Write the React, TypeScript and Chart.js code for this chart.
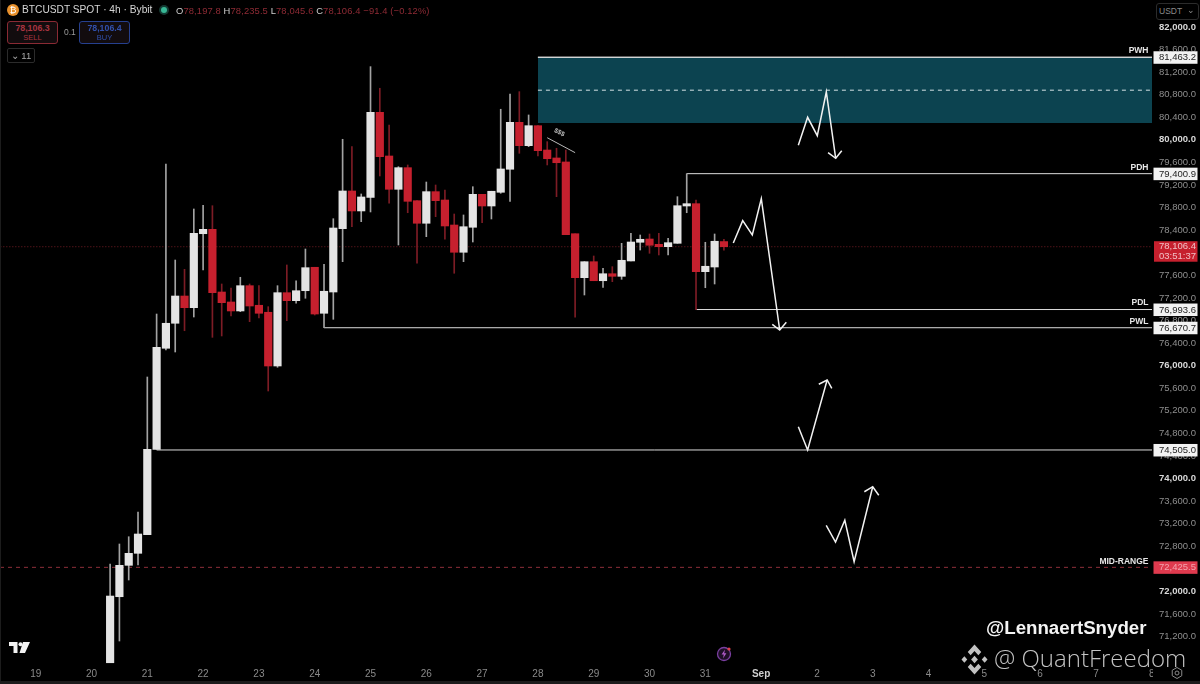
import React, { useEffect, useRef } from "react";
import { Chart, registerables } from "chart.js";

Chart.register(...registerables);

// Candle slots are counted from the 19th at 00:00, one slot per 4h bar.
const firstCandleSlot = 8;
const opens = [70735,71905,72461,72674,73004,74517,76307,76750,77233,77026,78337,78415,77304,77127,76968,77416,77069,76945,75993,77292,77150,77327,77742,76927,77304,78426,79094,78740,78982,80488,79714,79124,79507,78922,78522,79082,78934,78491,78008,78451,79035,78828,79071,79479,80311,79897,80251,79820,79679,79608,78337,77558,77841,77504,77628,77582,77854,78185,78243,78149,78107,78167,78828,78869,77664,77747,78197.8];
const highs = [72484,72839,72968,73406,75798,76914,79572,77871,77706,78775,78840,78833,77446,77375,77565,77446,77416,77044,77416,77783,77504,78066,77742,77795,78603,80010,79879,79041,81297,80914,80263,79525,79555,78922,79253,79200,79112,78686,78669,79170,79035,79089,80542,80813,80854,80441,80251,79968,79851,79820,78337,77841,77942,77724,77753,78167,78344,78314,78332,78344,78256,78993,79400,78934,78185,78332,78235.5];
const lows = [70735,71120,72201,72467,73004,74517,76276,76241,76618,76861,77694,76501,76525,76879,76956,76778,76843,75550,75970,76796,77104,77193,76896,76672,76820,77841,78461,78550,78722,79360,78876,78137,78709,77813,78284,78639,78238,77636,77841,78190,78532,78598,79053,78911,79762,79879,79714,79555,78993,78320,76856,77251,77504,77387,77487,77529,77854,78048,77990,77960,77960,78167,78709,76993,77380,77446,78045.6];
const closes = [71917,72461,72674,73016,74517,76324,76750,77233,77026,78344,78415,77292,77115,76968,77416,77056,76927,75993,77292,77150,77327,77735,76914,77317,78438,79094,78740,78988,80488,79702,79124,79507,78911,78522,79082,78922,78474,78008,78461,79035,78828,79089,79484,80311,79897,80251,79808,79666,79595,78320,77558,77841,77504,77628,77582,77866,78190,78238,78132,78107,78178,78833,78869,77664,77760,78203,78106.4];

const dayLabels = ["19","20","21","22","23","24","25","26","27","28","29","30","31","Sep","2","3","4","5","6","7","8"];
const slotsPerDay = 6;

const levelNames = ["PWH", "PDH", "PDL", "PWL", ""];
const levelPrices = [81463.2, 79400.9, 76993.6, 76670.7, 74505.0];
const levelStartSlots = [54, 70, 71, 31, 13];

const zoneTop = 81463.2;
const zoneBottom = 80300;
const zoneMid = 80880;
const zoneStartSlot = 54;

const midRangePrice = 72425.5;
const lastPrice = 78106.4;
const countdown = "03:51:37";

const slotMin = -3.84;
const slotMax = 120.03;
const priceMin = 70695;
const priceMax = 82478;
const firstPriceLabel = 71200;
const lastPriceLabel = 82000;

const arrowA = [[82,79904],[83,80400],[84.04,80074],[85.01,80848],[86.02,79673]];
const arrowAHead = [[85.2,79773],[86.02,79673],[86.67,79808]];
const arrowB = [[75.01,78172],[76.02,78568],[77.05,78314],[78.02,78957],[80,76631]];
const arrowBHead = [[79.2,76732],[80,76631],[80.71,76767]];
const arrowC = [[82,74917],[83,74505],[85.1,75745]];
const arrowCHead = [[84.2,75669],[85.1,75745],[85.6,75598]];
const arrowD = [[85,73170],[86,72874],[87,73259],[88,72525],[90,73854]];
const arrowDHead = [[89.1,73765],[90,73854],[90.65,73702]];
const noteLine = [[55,80038],[58,79773]];

const WHITE = "#e4e4e4";
const RED = "#c6202e";
const SANS = '"Liberation Sans", Arial, sans-serif';

const slots = opens.map((_, i) => firstCandleSlot + i);
const fmt = (v: number) => v.toLocaleString("en-US", { minimumFractionDigits: 1, maximumFractionDigits: 1 });
const toPts = (a: number[][]) => a.map(([x, y]) => ({ x, y }));

const lineDs = (data: any[], color: string, width: number, order: number, extra: any = {}) => ({
  type: "line",
  data,
  borderColor: color,
  borderWidth: width,
  pointRadius: 0,
  tension: 0,
  order,
  ...extra,
});

const overlayPlugin = {
  id: "overlay",
  afterDraw(chart: any) {
    const { ctx, scales } = chart;
    const ys = scales.y;
    const xs = scales.x;
    ctx.save();
    // cover the axis corner, as the last day label runs under the price axis
    ctx.fillStyle = "#000";
    ctx.fillRect(1153, 665, 47, 19);
    // settings glyph
    ctx.strokeStyle = "#8a8a8a";
    ctx.lineWidth = 1;
    ctx.beginPath();
    for (let i = 0; i < 6; i++) {
      const a = Math.PI / 6 + (i * Math.PI) / 3;
      const px = 1177 + 5.5 * Math.cos(a);
      const py = 673 + 5.5 * Math.sin(a);
      if (i === 0) ctx.moveTo(px, py);
      else ctx.lineTo(px, py);
    }
    ctx.closePath();
    ctx.stroke();
    ctx.beginPath();
    ctx.arc(1177, 673, 2, 0, Math.PI * 2);
    ctx.stroke();
    // window edges
    ctx.fillStyle = "#1c1c1c";
    ctx.fillRect(0, 681, 1200, 3);
    ctx.fillRect(0, 0, 1, 684);

    ctx.textBaseline = "middle";
    // level names
    ctx.textAlign = "right";
    ctx.font = `bold 8.5px ${SANS}`;
    ctx.fillStyle = "#e6e6e6";
    levelNames.forEach((n, i) => {
      if (n) ctx.fillText(n, 1148.5, ys.getPixelForValue(levelPrices[i]) - 6.5);
    });
    ctx.fillText("MID-RANGE", 1148.5, ys.getPixelForValue(midRangePrice) - 5.5);

    // price badges
    const badge = (price: number, bg: string, fg: string) => {
      const y = ys.getPixelForValue(price);
      ctx.fillStyle = bg;
      ctx.fillRect(1153.5, y - 6, 44, 12.5);
      ctx.fillStyle = fg;
      ctx.textAlign = "left";
      ctx.font = `9.5px ${SANS}`;
      ctx.fillText(fmt(price), 1159, y + 0.5);
    };
    levelPrices.forEach((p) => badge(p, "#f2f2f2", "#222"));
    badge(midRangePrice, "#df3a4e", "#f3a3ae");

    const ly = ys.getPixelForValue(lastPrice);
    ctx.fillStyle = RED;
    ctx.fillRect(1154, ly - 5.5, 43.5, 20.5);
    ctx.fillStyle = "#f0c0c5";
    ctx.textAlign = "left";
    ctx.font = `9.5px ${SANS}`;
    ctx.fillText(fmt(lastPrice), 1159, ly);
    ctx.fillText(countdown, 1159, ly + 10);

    // note text on the slanted line
    const nx = xs.getPixelForValue(56.3);
    const ny = ys.getPixelForValue(80130);
    ctx.translate(nx, ny);
    ctx.rotate(0.45);
    ctx.textAlign = "center";
    ctx.fillStyle = "#bdbdbd";
    ctx.font = `bold 6.5px ${SANS}`;
    ctx.fillText("$$$", 0, 0);
    ctx.restore();
  },
};

const box = (s: React.CSSProperties): React.CSSProperties => ({ position: "absolute", whiteSpace: "nowrap", ...s });

function Ohlc() {
  const lab = { color: "#d0d0d0" };
  const val = { color: "#8f2b35" };
  return (
    <div style={box({ left: 176, top: 5, fontSize: 9.4, fontFamily: SANS, lineHeight: "12px", letterSpacing: 0.12 })}>
      <span style={lab}>O</span><span style={val}>78,197.8 </span>
      <span style={lab}>H</span><span style={val}>78,235.5 </span>
      <span style={lab}>L</span><span style={val}>78,045.6 </span>
      <span style={lab}>C</span><span style={val}>78,106.4 −91.4 (−0.12%)</span>
    </div>
  );
}

function TradeButton(p: { left: number; border: string; color: string; price: string; label: string }) {
  return (
    <div style={box({ left: p.left, top: 21, width: 49, height: 21, border: `1px solid ${p.border}`, borderRadius: 3, background: "#120c0e", color: p.color, fontFamily: SANS, textAlign: "center" })}>
      <div style={{ fontSize: 8.8, lineHeight: "11px", marginTop: 1, fontWeight: 700 }}>{p.price}</div>
      <div style={{ fontSize: 7.5, lineHeight: "8px" }}>{p.label}</div>
    </div>
  );
}

export default function App() {
  const ref = useRef<HTMLCanvasElement>(null);
  useEffect(() => {
    const bodies = slots.map((x, i) => ({ x, y: [opens[i], closes[i]] }));
    const wicks = slots.map((x, i) => ({ x, y: [lows[i], highs[i]] }));
    const isUp = (i: number) => closes[i] >= opens[i];
    const chart = new Chart(ref.current as HTMLCanvasElement, {
      type: "bar",
      data: {
        datasets: [
          lineDs([{ x: zoneStartSlot, y: zoneTop }, { x: slotMax, y: zoneTop }], "#e8e8e8", 1, 10, { fill: { target: { value: zoneBottom } }, backgroundColor: "#0c4350" }),
          lineDs([{ x: zoneStartSlot, y: zoneMid }, { x: slotMax, y: zoneMid }], "#d5e2e4", 1, 9, { borderDash: [4, 4] }),
          lineDs([{ x: slotMin, y: lastPrice }, { x: slotMax, y: lastPrice }], "#4d1219", 1, 8, { borderDash: [1.5, 1.5] }),
          lineDs([{ x: slotMin, y: midRangePrice }, { x: slotMax, y: midRangePrice }], "#8e2f3a", 1, 8, { borderDash: [4, 4] }),
          ...levelPrices.map((p, i) => lineDs([{ x: levelStartSlots[i], y: p }, { x: slotMax, y: p }], "#dcdcdc", 1, 7)),
          {
            type: "bar",
            label: "wick",
            data: wicks,
            grouped: false,
            barThickness: 1,
            backgroundColor: slots.map((_, i) => (isUp(i) ? "#a3a3a3" : "#7d1c25")),
            order: 4,
          },
          {
            type: "bar",
            label: "body",
            data: bodies,
            grouped: false,
            barThickness: 7.5,
            backgroundColor: slots.map((_, i) => (isUp(i) ? WHITE : RED)),
            order: 3,
          },
          lineDs(toPts(noteLine), "#b9b9b9", 1, 2),
          ...[arrowA, arrowAHead, arrowB, arrowBHead, arrowC, arrowCHead, arrowD, arrowDHead].map((a) => lineDs(toPts(a), "#f2f2f2", 1.5, 1)),
        ] as any,
      },
      options: {
        responsive: false,
        animation: false,
        events: [],
        layout: { padding: 0, autoPadding: false },
        plugins: { legend: { display: false }, tooltip: { enabled: false } },
        scales: {
          x: {
            type: "linear",
            min: slotMin,
            max: slotMax,
            offset: false,
            grid: { display: false, drawTicks: false },
            border: { display: false },
            afterFit: (s: any) => { s.height = 19; s.paddingLeft = 0; s.paddingRight = 0; },
            ticks: {
              stepSize: slotsPerDay,
              includeBounds: false,
              autoSkip: false,
              maxRotation: 0,
              padding: 3,
              color: (c: any) => (c.tick?.value === 78 ? "#d0d0d0" : "#8a8a8a"),
              font: (c: any) => ({ family: SANS, size: 10, weight: c.tick?.value === 78 ? "bold" : "normal" }),
              callback: (v: any) => dayLabels[Math.round(v / slotsPerDay)] ?? "",
            },
          },
          y: {
            type: "linear",
            position: "right",
            min: priceMin,
            max: priceMax,
            grid: { display: false, drawTicks: false },
            border: { display: false },
            afterFit: (s: any) => { s.width = 48; s.paddingTop = 0; s.paddingBottom = 0; },
            ticks: {
              stepSize: 400,
              includeBounds: false,
              autoSkip: false,
              padding: 7,
              crossAlign: "near",
              color: (c: any) => (c.tick && c.tick.value % 2000 === 0 ? "#d8d8d8" : "#8f8f8f"),
              font: (c: any) => ({ family: SANS, size: 9.5, weight: c.tick && c.tick.value % 2000 === 0 ? "bold" : "normal" }),
              callback: (v: any) => (v < firstPriceLabel || v > lastPriceLabel ? null : fmt(Number(v))),
            },
          },
        },
      } as any,
      plugins: [overlayPlugin as any],
    });
    return () => chart.destroy();
  }, []);

  return (
    <div style={{ position: "fixed", left: 0, top: 0, width: 1200, height: 684, background: "#000", overflow: "hidden" }}>
      <canvas ref={ref} width={1200} height={684} style={{ display: "block", width: 1200, height: 684 }} />

      {/* header */}
      <div style={box({ left: 7, top: 4, width: 12, height: 12, borderRadius: 6, background: "#e8912d", color: "#fff", fontSize: 9, lineHeight: "12px", textAlign: "center", fontFamily: SANS })}>₿</div>
      <div style={box({ left: 22, top: 3, fontSize: 10.2, lineHeight: "14px", color: "#d6d6d6", fontFamily: SANS })}>BTCUSDT SPOT · 4h · Bybit</div>
      <div style={box({ left: 161, top: 7, width: 6, height: 6, borderRadius: 3, background: "#37b795", boxShadow: "0 0 0 2px #143a33" })} />
      <Ohlc />
      <TradeButton left={7} border="#8a2a34" color="#a83440" price="78,106.3" label="SELL" />
      <div style={box({ left: 64, top: 27, fontSize: 8.5, lineHeight: "11px", color: "#9a9a9a", fontFamily: SANS })}>0.1</div>
      <TradeButton left={79} border="#26408f" color="#3150ab" price="78,106.4" label="BUY" />
      <div style={box({ left: 7, top: 48, width: 26, height: 13, border: "1px solid #2b2b2b", borderRadius: 2, color: "#a8a8a8", fontSize: 9.5, lineHeight: "13px", textAlign: "center", fontFamily: SANS })}>⌄ 11</div>
      <div style={box({ left: 1156, top: 3, width: 39, height: 15, border: "1px solid #2b2b2b", borderRadius: 3, background: "#000", color: "#8a8a8a", fontSize: 8.5, lineHeight: "15px", paddingLeft: 2, fontFamily: SANS })}>USDT<span style={{ position: "absolute", right: 3, top: -1 }}>⌄</span></div>

      {/* TradingView mark */}
      <svg style={box({ left: 9, top: 642 })} width="21" height="12" viewBox="0 0 21 12">
        <path d="M0 0H8.5V11H4.5V4H0Z M14 0H21L16 11H10.5Z" fill="#f2f2f2" />
        <circle cx="11.5" cy="2.2" r="2" fill="#f2f2f2" />
      </svg>

      {/* lightning badge */}
      <svg style={box({ left: 715, top: 645 })} width="18" height="18" viewBox="0 0 18 18">
        <circle cx="9" cy="9" r="6.5" fill="#1e0f26" stroke="#7a3fa0" strokeWidth="1.3" />
        <path d="M10 4.5 L6.6 9.6 H8.8 L8 13.5 L11.4 8.3 H9.2Z" fill="#b05cc8" />
        <circle cx="14" cy="4" r="1.6" fill="#e0404a" />
      </svg>

      {/* watermarks */}
      <div style={box({ left: 986, top: 617, fontSize: 18.7, lineHeight: "22px", fontWeight: 700, color: "#f4f4f4", fontFamily: SANS })}>@LennaertSnyder</div>
      <svg style={box({ left: 961, top: 644 })} width="27" height="31" viewBox="0 0 28 29" preserveAspectRatio="none">
        <g fill="#c2c2c2">
          <path d="M14 0.5 L21 7.5 L18 10.5 L14 6.5 L10 10.5 L7 7.5Z" />
          <path d="M14 28.5 L21 21.5 L18 18.5 L14 22.5 L10 18.5 L7 21.5Z" />
          <path d="M3.5 11.5 L6.5 14.5 L3.5 17.5 L0.5 14.5Z" />
          <path d="M24.5 11.5 L27.5 14.5 L24.5 17.5 L21.5 14.5Z" />
          <path d="M14 11 L17.5 14.5 L14 18 L10.5 14.5Z" />
        </g>
      </svg>
      <div style={box({ left: 994, top: 642, fontSize: 24, fontWeight: 300, lineHeight: "32px", color: "#c4c4c4", fontFamily: '"Open Sans", sans-serif' })}>@ QuantFreedom</div>
    </div>
  );
}
